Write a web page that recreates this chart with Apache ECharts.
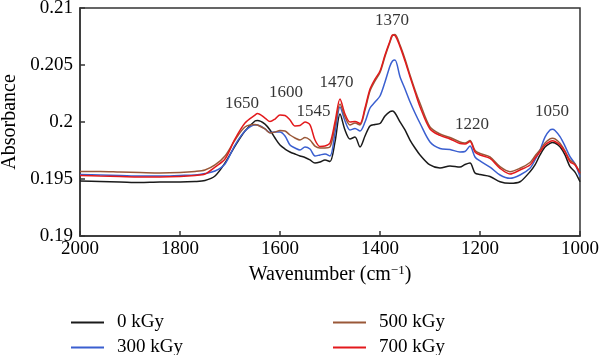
<!DOCTYPE html>
<html>
<head>
<meta charset="utf-8">
<script src="https://cdn.jsdelivr.net/npm/echarts@6/dist/echarts.min.js"></script>
<style>html,body{margin:0;padding:0;background:#fff}#c{width:600px;height:355px}</style>
</head>
<body>
<div id="c"></div>
<script>
// Wavenumbers (cm^-1)
var wavenumbers = [2000,1960,1920,1880,1840,1800,1770,1750,1730,1710,1690,1670,1650,1645,1630,1620,1610,1600,1590,1580,1570,1560,1550,1540,1530,1520,1510,1500,1490,1480,1470,1460,1450,1440,1430,1420,1410,1400,1390,1380,1375,1370,1360,1350,1340,1330,1320,1300,1280,1260,1240,1230,1220,1210,1200,1180,1160,1140,1120,1100,1090,1080,1070,1060,1055,1050,1040,1030,1020,1010,1000];
var abs0 = [0.19482,0.19478,0.19474,0.19469,0.19474,0.19474,0.19478,0.19487,0.19526,0.19640,0.19789,0.19921,0.20009,0.20013,0.19982,0.19930,0.19860,0.19798,0.19763,0.19737,0.19719,0.19702,0.19689,0.19667,0.19640,0.19649,0.19667,0.19654,0.19825,0.20070,0.19930,0.19851,0.19868,0.19781,0.19877,0.19965,0.19978,0.19987,0.20053,0.20092,0.20096,0.20079,0.20002,0.19930,0.19842,0.19772,0.19711,0.19623,0.19596,0.19614,0.19605,0.19627,0.19640,0.19553,0.19539,0.19522,0.19476,0.19462,0.19476,0.19564,0.19623,0.19711,0.19781,0.19813,0.19820,0.19816,0.19783,0.19711,0.19608,0.19561,0.19476];
var abs300 = [0.19539,0.19535,0.19531,0.19526,0.19526,0.19531,0.19535,0.19548,0.19570,0.19632,0.19798,0.19921,0.19974,0.19974,0.19939,0.19908,0.19912,0.19912,0.19877,0.19798,0.19772,0.19754,0.19781,0.19763,0.19702,0.19711,0.19719,0.19702,0.19904,0.20132,0.20009,0.19930,0.19943,0.19921,0.20000,0.20123,0.20175,0.20228,0.20351,0.20491,0.20535,0.20544,0.20397,0.20289,0.20178,0.20079,0.19989,0.19825,0.19768,0.19759,0.19737,0.19741,0.19789,0.19693,0.19658,0.19605,0.19535,0.19506,0.19535,0.19594,0.19667,0.19754,0.19868,0.19930,0.19936,0.19925,0.19871,0.19789,0.19696,0.19632,0.19520];
var abs500 = [0.19566,0.19566,0.19561,0.19557,0.19553,0.19557,0.19566,0.19579,0.19623,0.19702,0.19842,0.19956,0.19978,0.19974,0.19939,0.19904,0.19912,0.19925,0.19921,0.19886,0.19860,0.19842,0.19864,0.19842,0.19789,0.19772,0.19772,0.19781,0.19965,0.20158,0.20044,0.19974,0.19991,0.19974,0.20105,0.20272,0.20360,0.20434,0.20575,0.20702,0.20759,0.20768,0.20675,0.20553,0.20412,0.20281,0.20164,0.19956,0.19895,0.19864,0.19825,0.19816,0.19838,0.19750,0.19724,0.19693,0.19608,0.19564,0.19594,0.19645,0.19702,0.19754,0.19816,0.19851,0.19857,0.19851,0.19813,0.19746,0.19667,0.19632,0.19550];
var abs700 = [0.19531,0.19526,0.19522,0.19518,0.19518,0.19522,0.19531,0.19544,0.19605,0.19675,0.19851,0.19991,0.20061,0.20075,0.20035,0.20004,0.20026,0.20061,0.20057,0.20018,0.19965,0.19969,0.20000,0.19974,0.19842,0.19785,0.19789,0.19816,0.20000,0.20202,0.20070,0.20000,0.20004,0.19987,0.20123,0.20289,0.20377,0.20447,0.20588,0.20711,0.20763,0.20759,0.20661,0.20535,0.20397,0.20263,0.20134,0.19939,0.19882,0.19851,0.19811,0.19807,0.19829,0.19737,0.19711,0.19680,0.19594,0.19544,0.19579,0.19623,0.19684,0.19739,0.19798,0.19829,0.19836,0.19829,0.19798,0.19737,0.19652,0.19623,0.19553];
var seriesNames = ['0 kGy','300 kGy','500 kGy','700 kGy'];
// Peak annotations
var peakNames = ['1650','1600','1545','1470','1370','1220','1050'];
var peakWn = [1676,1588,1533,1487,1376,1216,1056];
var peakAbs = [0.20165,0.20259,0.20096,0.20346,0.20886,0.19982,0.20096];
var xTicks = [1000,1200,1400,1600,1800,2000];
var yTicks = [0.19,0.195,0.2,0.205,0.21];

var colors = ['#1a1a1a','#3a5fd0','#9a5838','#e3191c'];
var allAbs = [abs0,abs300,abs500,abs700];
var FONT = 'Liberation Serif';

var series = allAbs.map(function(arr, k){
  return {
    name: seriesNames[k], type: 'line', showSymbol: false, symbol: 'none', smooth: 0.3,
    data: wavenumbers.map(function(w,i){ return [w, arr[i]]; }),
    lineStyle: {color: colors[k], width: 1.5}, itemStyle: {color: colors[k]}, z: 2 + k
  };
});
series.push({
  type: 'scatter', symbolSize: 0, silent: true,
  data: peakNames.map(function(n,i){ return {name: n, value: [peakWn[i], peakAbs[i]]}; }),
  label: {show: true, position: 'inside', formatter: '{b}', fontFamily: FONT, fontSize: 17, color: '#000'}
});

function legendAt(name, left, top){
  return {data: [name], left: left, top: top, orient: 'horizontal', padding: 0,
    icon: 'rect', itemWidth: 33, itemHeight: 2, itemGap: 0,
    textStyle: {fontFamily: FONT, fontSize: 19, color: '#000', padding: [0,0,0,8]}};
}

var chart = echarts.init(document.getElementById('c'), null, {renderer: 'canvas'});
chart.setOption({
  animation: false,
  backgroundColor: '#fff',
  textStyle: {fontFamily: FONT},
  grid: {left: 80, right: 20, top: 8, bottom: 119, show: true, borderColor: '#333', borderWidth: 1.5, containLabel: false, outerBoundsMode: 'none'},
  legend: [legendAt('0 kGy', 71, 313), legendAt('300 kGy', 71, 338), legendAt('500 kGy', 333, 313), legendAt('700 kGy', 333, 338)],
  xAxis: {
    type: 'value', inverse: true, min: xTicks[0], max: xTicks[xTicks.length-1], interval: 200,
    name: 'Wavenumber (cm{sup|\u22121})', nameLocation: 'middle', nameGap: 28,
    nameTextStyle: {fontFamily: FONT, fontSize: 20, color: '#000', rich: {sup: {fontFamily: FONT, fontSize: 13, verticalAlign: 'top', padding: [0,0,8,0], color: '#000'}}},
    axisLine: {show: true, lineStyle: {color: '#333', width: 1.5}},
    axisTick: {show: true, inside: true, length: 5, lineStyle: {color: '#333', width: 1.5}},
    axisLabel: {fontFamily: FONT, fontSize: 19, color: '#000', margin: 4,
      formatter: function(v){ return String(v); }},
    splitLine: {show: false}
  },
  yAxis: {
    type: 'value', min: yTicks[0], max: yTicks[yTicks.length-1], interval: 0.005,
    name: 'Absorbance', nameLocation: 'middle', nameGap: 55, nameRotate: 90,
    nameTextStyle: {fontFamily: FONT, fontSize: 20, color: '#000'},
    axisLine: {show: true, lineStyle: {color: '#333', width: 1.5}},
    axisTick: {show: true, inside: true, length: 5, lineStyle: {color: '#333', width: 1.5}},
    axisLabel: {fontFamily: FONT, fontSize: 19, color: '#000', margin: 7,
      formatter: function(v){ return String(parseFloat(v.toFixed(3))); }},
    splitLine: {show: false}
  },
  series: series
});
</script>
</body>
</html>
